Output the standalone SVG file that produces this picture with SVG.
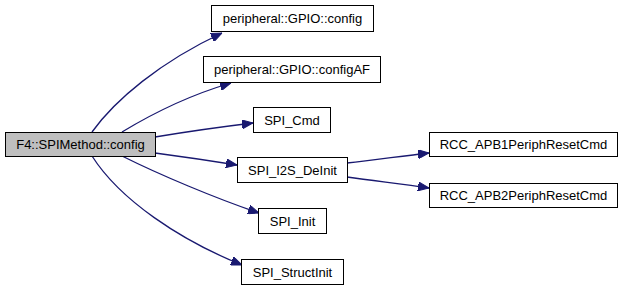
<svg xmlns="http://www.w3.org/2000/svg" width="623" height="291" viewBox="0 0 623 291">
  <style>
    .box { fill: #ffffff; stroke: #000000; stroke-width: 1; }
    .root { fill: #bfbfbf; stroke: #000000; stroke-width: 1; }
    .lbl { font-family: "Liberation Sans", Arial, sans-serif; font-size: 13px; fill: #000000; text-anchor: middle; }
    .edge { fill: none; stroke: #191970; stroke-width: 1.3; }
  </style>
  <defs>
    <marker id="arrow" viewBox="0 0 11 9" refX="11" refY="4.5" markerWidth="11" markerHeight="9" markerUnits="userSpaceOnUse" orient="auto">
      <path d="M0,0 L11,4.5 L0,9 Z" fill="#191970" stroke="#191970"/>
    </marker>
  </defs>
  <rect width="623" height="291" fill="#ffffff"/>

  <g id="connectors">
    <path class="edge" marker-end="url(#arrow)" d="M92,132 C115,100 160,62 222,33"/>
    <path class="edge" marker-end="url(#arrow)" d="M122,132 C150,115 190,95 231,83"/>
    <path class="edge" marker-end="url(#arrow)" d="M155,137 C185,132 220,127 253,123"/>
    <path class="edge" marker-end="url(#arrow)" d="M155,153 C185,157 212,161 237,165"/>
    <path class="edge" marker-end="url(#arrow)" d="M122,156 C160,175 215,198 259,213"/>
    <path class="edge" marker-end="url(#arrow)" d="M92,156 C120,200 180,240 242,265"/>
    <path class="edge" marker-end="url(#arrow)" d="M347,163 C375,160 402,156 429,153"/>
    <path class="edge" marker-end="url(#arrow)" d="M347,177 C375,181 402,184 429,188"/>
  </g>

  <g id="F4_SPIMethod_config">
    <rect class="root" x="5.5" y="132.5" width="150" height="24"/>
    <text class="lbl" x="80.5" y="149">F4::SPIMethod::config</text>
  </g>
  <g id="peripheral_GPIO_config">
    <rect class="box" x="211.5" y="5.5" width="162" height="26"/>
    <text class="lbl" x="292.5" y="23">peripheral::GPIO::config</text>
  </g>
  <g id="peripheral_GPIO_configAF">
    <rect class="box" x="203.5" y="56.5" width="177" height="26"/>
    <text class="lbl" x="292" y="74">peripheral::GPIO::configAF</text>
  </g>
  <g id="SPI_Cmd">
    <rect class="box" x="253.5" y="107.5" width="77" height="25"/>
    <text class="lbl" x="292" y="124.5">SPI_Cmd</text>
  </g>
  <g id="SPI_I2S_DeInit">
    <rect class="box" x="237.5" y="157.5" width="110" height="25"/>
    <text class="lbl" x="292.5" y="174.5">SPI_I2S_DeInit</text>
  </g>
  <g id="SPI_Init">
    <rect class="box" x="258.5" y="208.5" width="68" height="25"/>
    <text class="lbl" x="292.5" y="225.5">SPI_Init</text>
  </g>
  <g id="SPI_StructInit">
    <rect class="box" x="241.5" y="259.5" width="102" height="25"/>
    <text class="lbl" x="292.5" y="276.5">SPI_StructInit</text>
  </g>
  <g id="RCC_APB1PeriphResetCmd">
    <rect class="box" x="429.5" y="132.5" width="188" height="24"/>
    <text class="lbl" x="523.5" y="149">RCC_APB1PeriphResetCmd</text>
  </g>
  <g id="RCC_APB2PeriphResetCmd">
    <rect class="box" x="429.5" y="183.5" width="188" height="24"/>
    <text class="lbl" x="523.5" y="200">RCC_APB2PeriphResetCmd</text>
  </g>
</svg>
